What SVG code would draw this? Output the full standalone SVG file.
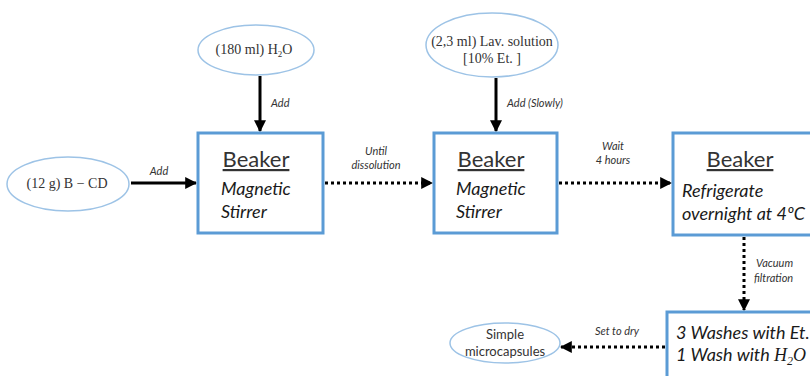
<svg xmlns="http://www.w3.org/2000/svg" width="810" height="376" viewBox="0 0 810 376">
  <defs>
    <marker id="head" viewBox="0 0 10 10" refX="9" refY="5" markerWidth="4" markerHeight="4" orient="auto" markerUnits="strokeWidth">
      <path d="M0,0 L10,5 L0,10 Z" fill="#000"/>
    </marker>
  </defs>
  <style>
    .bg { fill: #fff; }
    .oval { fill: #fff; stroke: #9dc3e6; stroke-width: 1.5; }
    .box { fill: #fff; stroke: #5b9bd5; stroke-width: 3; }
    .serif { font-family: "Liberation Serif", "DejaVu Serif", serif; font-size: 14px; fill: #333; }
    .title { font-family: Lato, "Noto Sans", sans-serif; font-size: 22px; fill: #333; text-decoration: underline; }
    .body { font-family: Lato, "Noto Sans", sans-serif; font-size: 18px; font-style: italic; fill: #1a1a1a; }
    .lbl { font-family: Lato, "Noto Sans", sans-serif; font-size: 11px; font-style: italic; fill: #333; }
    .oval-sans { font-family: Lato, "Noto Sans", sans-serif; font-size: 13px; fill: #333; }
    .solid { stroke: #000; stroke-width: 3; fill: none; marker-end: url(#head); }
    .dots { stroke: #000; stroke-width: 3; stroke-dasharray: 3 3; fill: none; marker-end: url(#head); }
  </style>
  <rect class="bg" width="810" height="376"/>

  <!-- connectors -->
  <g id="connectors">
    <line class="solid" x1="131" y1="183" x2="196" y2="183"/>
    <line class="solid" x1="260" y1="76" x2="260" y2="131"/>
    <line class="solid" x1="496" y1="78" x2="496" y2="131"/>
    <line class="dots" x1="325" y1="183" x2="432" y2="183"/>
    <line class="dots" x1="559" y1="183" x2="671" y2="183"/>
    <line class="dots" x1="744" y1="237" x2="744" y2="310"/>
    <line class="dots" x1="665" y1="347" x2="561" y2="347"/>
    <text class="lbl" x="159" y="175" text-anchor="middle">Add</text>
    <text class="lbl" x="271" y="107">Add</text>
    <text class="lbl" x="507" y="107">Add (Slowly)</text>
    <text class="lbl" x="376" y="155" text-anchor="middle">Until</text>
    <text class="lbl" x="376" y="169" text-anchor="middle">dissolution</text>
    <text class="lbl" x="613" y="150" text-anchor="middle">Wait</text>
    <text class="lbl" x="613" y="164" text-anchor="middle">4 hours</text>
    <text class="lbl" x="756" y="267">Vacuum</text>
    <text class="lbl" x="754" y="282">filtration</text>
    <text class="lbl" x="617" y="335" text-anchor="middle">Set to dry</text>
  </g>

  <!-- inputs -->
  <g id="bcd">
    <ellipse class="oval" cx="68" cy="184" rx="61" ry="27"/>
    <text class="serif" x="67" y="188" text-anchor="middle">(12 g) B − CD</text>
  </g>
  <g id="water">
    <ellipse class="oval" cx="256" cy="50" rx="58" ry="25"/>
    <text class="serif" x="254" y="54" text-anchor="middle">(180 ml) H<tspan font-size="9" dy="3">2</tspan><tspan dy="-3">O</tspan></text>
  </g>
  <g id="lavender">
    <ellipse class="oval" cx="492" cy="45" rx="66" ry="32"/>
    <text class="serif" x="492" y="46" text-anchor="middle">(2,3 ml) Lav. solution</text>
    <text class="serif" x="492" y="63" text-anchor="middle">[10% Et. ]</text>
  </g>

  <!-- process steps -->
  <g id="beaker1">
    <rect class="box" x="198" y="133" width="125" height="100"/>
    <text class="title" x="256" y="167" text-anchor="middle">Beaker</text>
    <text class="body" x="221" y="195">Magnetic</text>
    <text class="body" x="221" y="218">Stirrer</text>
  </g>
  <g id="beaker2">
    <rect class="box" x="434" y="133" width="123" height="100"/>
    <text class="title" x="491" y="167" text-anchor="middle">Beaker</text>
    <text class="body" x="456" y="195">Magnetic</text>
    <text class="body" x="456" y="218">Stirrer</text>
  </g>
  <g id="beaker3">
    <rect class="box" x="673" y="133" width="160" height="102"/>
    <text class="title" x="740" y="167" text-anchor="middle">Beaker</text>
    <text class="body" x="682" y="197">Refrigerate</text>
    <text class="body" x="682" y="220">overnight at 4ºC</text>
  </g>
  <g id="washes">
    <rect class="box" x="667" y="312" width="170" height="80"/>
    <text class="body" x="676" y="339">3 Washes with Et.</text>
    <text class="body" x="676" y="361">1 Wash with <tspan font-family="Liberation Serif, serif">H</tspan><tspan font-family="Liberation Serif, serif" font-size="12" dy="4">2</tspan><tspan font-family="Liberation Serif, serif" dy="-4">O</tspan></text>
  </g>

  <!-- product -->
  <g id="product">
    <ellipse class="oval" cx="505" cy="343" rx="55" ry="20"/>
    <text class="oval-sans" x="505" y="339" text-anchor="middle">Simple</text>
    <text class="oval-sans" x="505" y="356" text-anchor="middle">microcapsules</text>
  </g>
</svg>
